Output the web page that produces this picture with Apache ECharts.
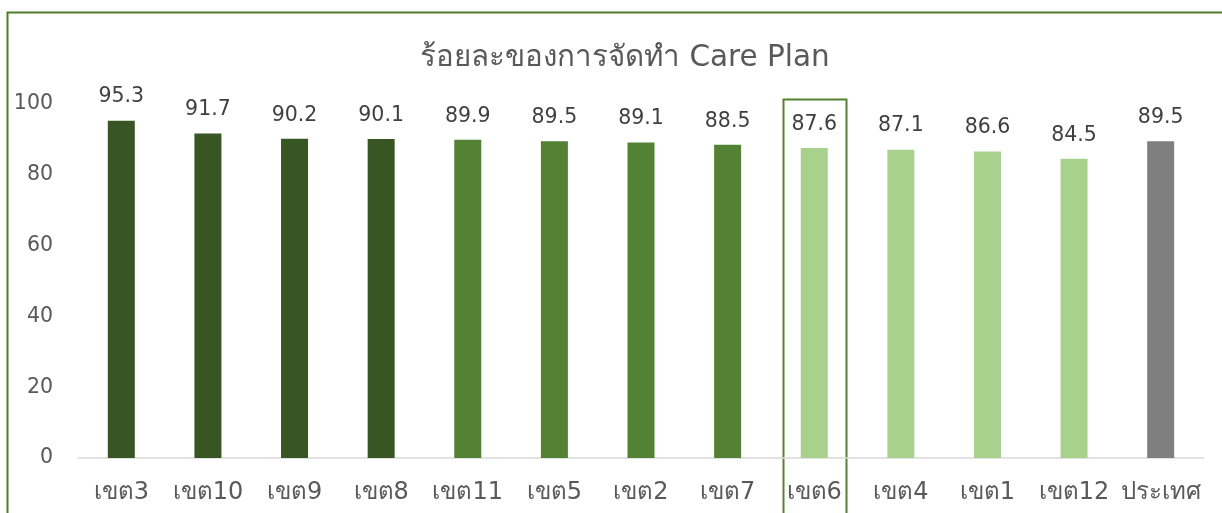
<!DOCTYPE html>
<html><head><meta charset="utf-8">
<script src="https://cdn.jsdelivr.net/npm/echarts@6/dist/echarts.min.js"></script>
<style>html,body{margin:0;padding:0;background:#fff}#c{width:1222px;height:513px}</style>
</head><body><div id="c"></div>
<script>
const categories = ['เขต3','เขต10','เขต9','เขต8','เขต11','เขต5','เขต2','เขต7','เขต6','เขต4','เขต1','เขต12','ประเทศ'];
const values = [95.3,91.7,90.2,90.1,89.9,89.5,89.1,88.5,87.6,87.1,86.6,84.5,89.5];
const barColors = ['#375623','#375623','#375623','#375623','#548235','#548235','#548235','#548235','#A9D18E','#A9D18E','#A9D18E','#A9D18E','#7F7F7F'];
const yTicks = [0,20,40,60,80,100];
const highlightCategory = 'เขต6';
const titleText = 'ร้อยละของการจัดทำ Care Plan';

const FONT = 'Tahoma, "DejaVu Sans", "Noto Sans", sans-serif';
const chart = echarts.init(document.getElementById('c'), null, {renderer:'canvas'});
chart.setOption({
  animation:false,
  title:{text:titleText,left:415,top:38,textStyle:{fontFamily:FONT,fontSize:29.5,fontWeight:'normal',color:'#595959'}},
  grid:{left:78,right:18,top:104,bottom:55},
  xAxis:{type:'category',data:categories,
    axisLine:{lineStyle:{color:'#D9D9D9',width:1.5}},axisTick:{show:false},
    axisLabel:{fontFamily:FONT,fontSize:24,color:'#595959',margin:23,interval:0}},
  yAxis:{type:'value',min:0,max:100,interval:20,
    axisLine:{show:false},axisTick:{show:false},splitLine:{show:false},
    axisLabel:{fontFamily:FONT,fontSize:20.5,color:'#595959',margin:25}},
  series:[{type:'bar',data:values.map((v,i)=>({value:v,itemStyle:{color:barColors[i]}})),
    barWidth:27,
    label:{show:true,position:'top',distance:13,fontFamily:FONT,fontSize:20.5,color:'#404040'}}]
});
const cx = chart.convertToPixel({xAxisIndex:0},highlightCategory);
chart.setOption({graphic:[
  {type:'rect',shape:{x:7.5,y:12.5,width:1300,height:700},style:{fill:null,stroke:'#4F7A28',lineWidth:2}},
  {type:'rect',shape:{x:Math.round(cx)-30.5,y:99.5,width:63,height:500},style:{fill:null,stroke:'#548235',lineWidth:2}}
]});
</script></body></html>
